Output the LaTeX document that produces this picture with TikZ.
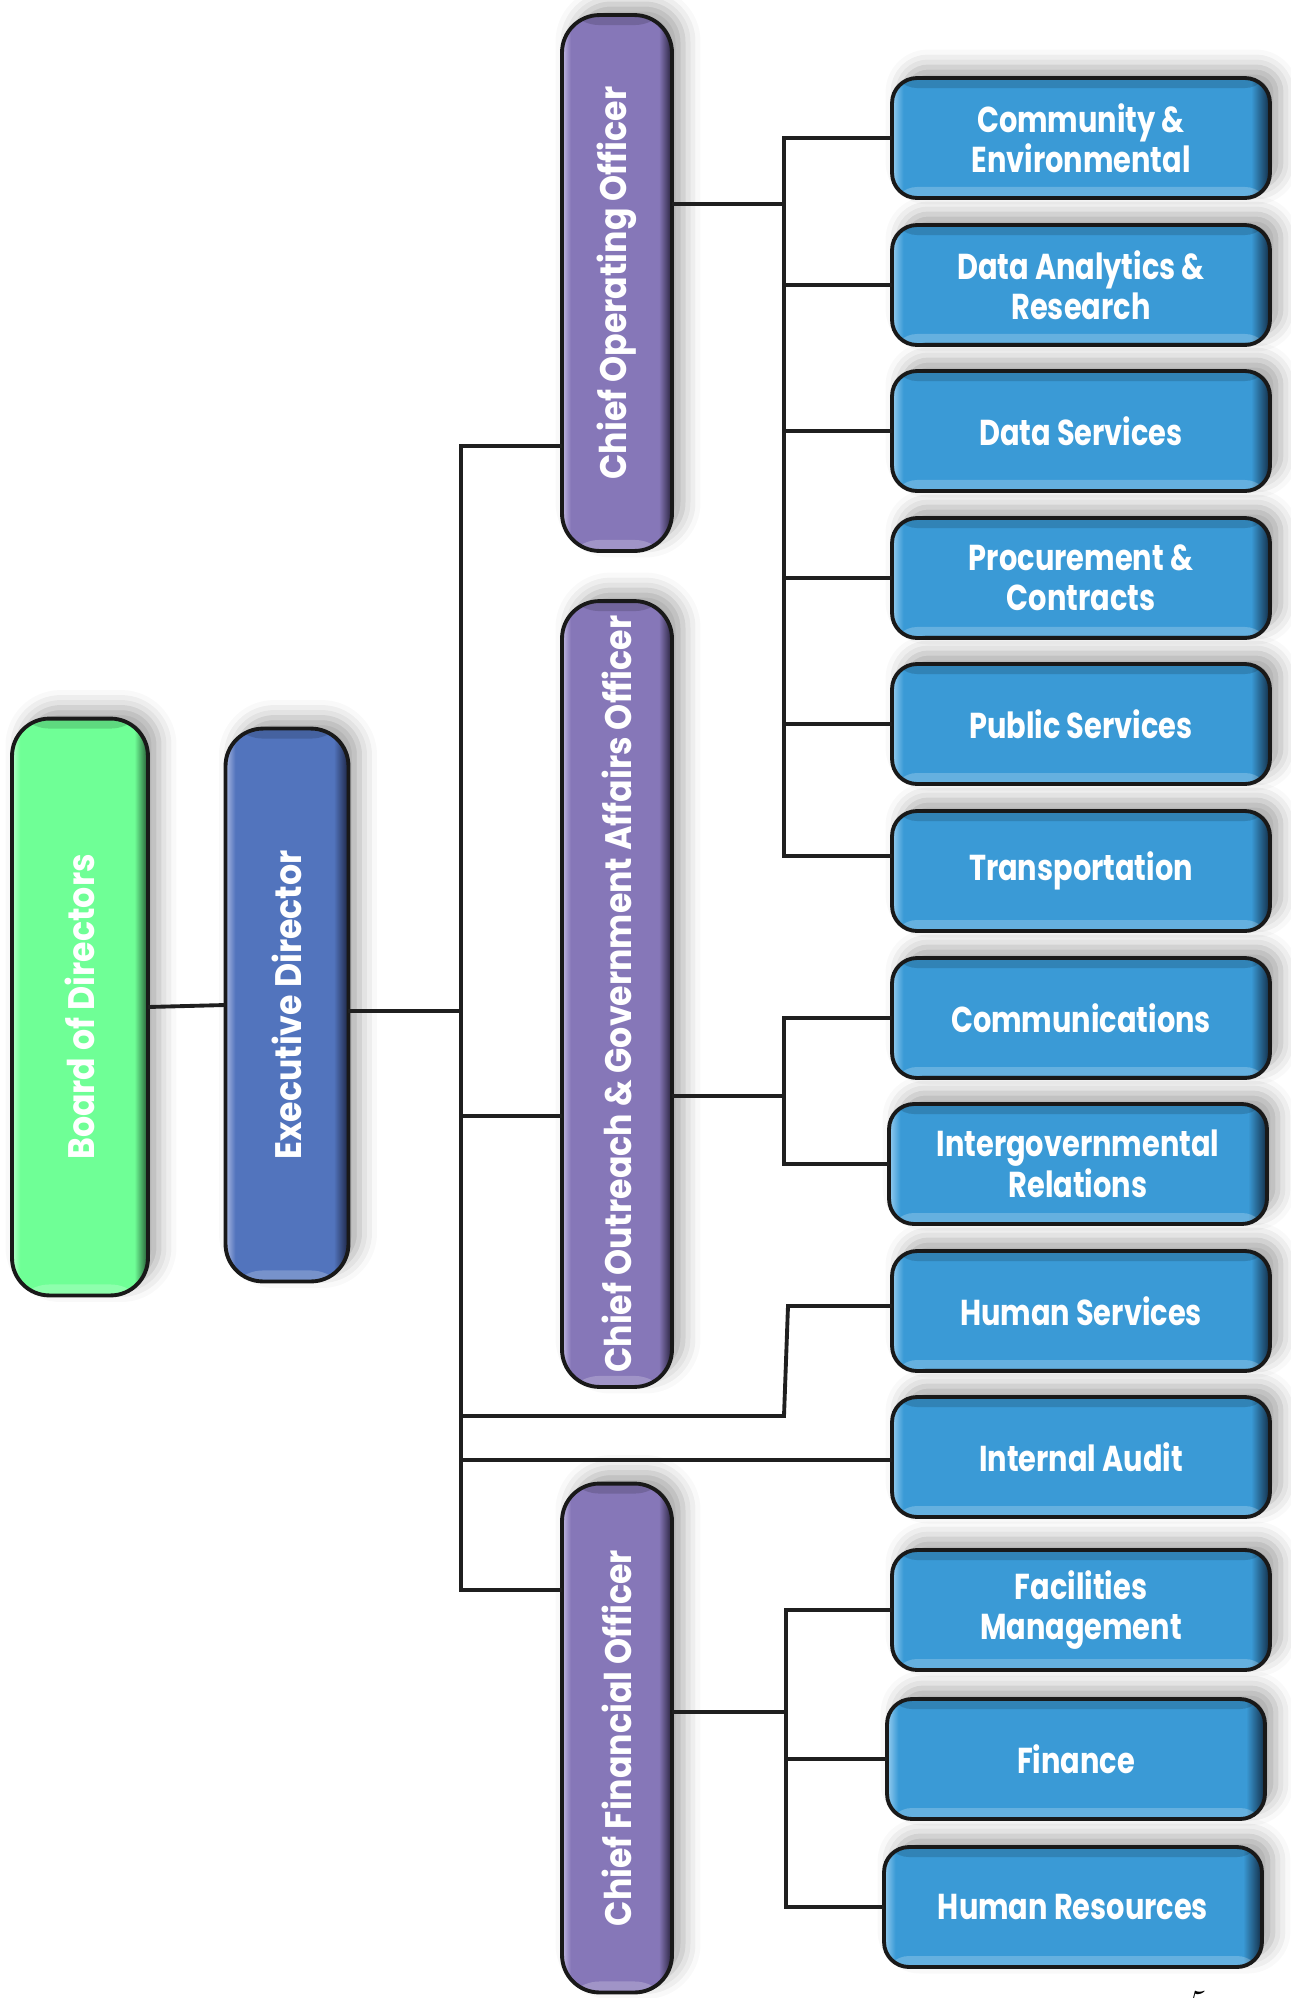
\documentclass[tikz,border=0pt]{standalone}
\usepackage{fontspec}
\usepackage{graphicx}
\usepackage{xcolor}
\usetikzlibrary{shadows.blur}
\newfontfamily\vertfont[FakeStretch=0.9]{Poppins}
\newfontfamily\unitfont[FakeStretch=0.8]{Poppins}

\definecolor{boardbase}{RGB}{111,255,150}
\definecolor{boardlight}{RGB}{185,255,205}
\definecolor{boarddark}{RGB}{35,85,50}
\definecolor{execbase}{RGB}{82,116,189}
\definecolor{execlight}{RGB}{170,185,225}
\definecolor{execdark}{RGB}{28,36,66}
\definecolor{offbase}{RGB}{134,119,184}
\definecolor{offlight}{RGB}{195,185,228}
\definecolor{offdark}{RGB}{38,32,58}
\definecolor{unitbase}{RGB}{58,154,214}
\definecolor{unitlight}{RGB}{150,205,240}
\definecolor{unitdark}{RGB}{18,45,70}

\pgfdeclarehorizontalshading{boardbevel}{100bp}{color(0bp)=(boardlight); color(25bp)=(boardlight); color(28bp)=(boardbase); color(70bp)=(boardbase); color(75bp)=(boarddark); color(100bp)=(boarddark)}
\pgfdeclarehorizontalshading{execbevel}{100bp}{color(0bp)=(execlight); color(25bp)=(execlight); color(29bp)=(execbase); color(69bp)=(execbase); color(75bp)=(execdark); color(100bp)=(execdark)}
\pgfdeclarehorizontalshading{offbevel}{100bp}{color(0bp)=(offlight); color(25bp)=(offlight); color(29bp)=(offbase); color(69bp)=(offbase); color(75bp)=(offdark); color(100bp)=(offdark)}
\pgfdeclarehorizontalshading{unitbevel}{100bp}{color(0bp)=(unitlight); color(25bp)=(unitlight); color(26.5bp)=(unitbase); color(72.5bp)=(unitbase); color(75bp)=(unitdark); color(100bp)=(unitdark)}

\tikzset{
  orgbox/.style = {rounded corners=#1, draw=black!90, line width=2.2pt,
                   inner sep=0pt, outer sep=0pt, shade, text=white,
                   blur shadow={shadow xshift=0.22cm, shadow yshift=0.22cm,
                                shadow blur radius=0.35cm, shadow opacity=35},
                   path picture={
                     \fill[black, opacity=0.15] (path picture bounding box.north west)
                       rectangle ([yshift=-0.2cm]path picture bounding box.north east);
                     \fill[white, opacity=0.22] (path picture bounding box.south west)
                       rectangle ([yshift=0.22cm]path picture bounding box.south east);
                   }},
  leader/.style  = {orgbox=0.75cm, font=\vertfont\bfseries\fontsize{21}{21}\selectfont},
  officer/.style = {orgbox=0.75cm, shading=offbevel, minimum width=2.2cm,
                    font=\vertfont\bfseries\fontsize{21}{21}\selectfont},
  unit/.style    = {orgbox=0.5cm, shading=unitbevel, minimum width=7.56cm,
                    minimum height=2.4cm, align=center,
                    font=\unitfont\bfseries\fontsize{20.5}{23}\selectfont},
  link/.style    = {draw=black!88, line width=2.2pt}
}

\begin{document}
\begin{tikzpicture}[x=0.02cm, y=-0.02cm]
	\useasboundingbox (0,0) rectangle (1291,1998);

	% Top of the tree
	\node[leader, shading=boardbevel, minimum width=2.72cm, minimum height=11.54cm] (bod) at (80,1007) {\rotatebox{90}{Board of Directors}};
	\node[leader, shading=execbevel, minimum width=2.46cm, minimum height=11.06cm] (ed) at (287,1005) {\rotatebox{90}{Executive Director}};

	% Chiefs
	\node[officer, minimum height=10.72cm] (coo) at (617,283) {\rotatebox{90}{Chief Operating Officer}};
	\node[officer, minimum height=15.72cm] (outreach) at (617,994) {\rotatebox{90}{Chief Outreach \& Government Affairs Officer}};
	\node[officer, minimum height=10.18cm] (cfo) at (617,1738) {\rotatebox{90}{Chief Financial Officer}};

	% Units
	\node[unit] (comm) at (1081,138) {Community \&\\Environmental};
	\node[unit] (dar) at (1081,285) {Data Analytics \&\\Research};
	\node[unit] (dsv) at (1081,431) {Data Services};
	\node[unit] (proc) at (1081,578) {Procurement \&\\Contracts};
	\node[unit] (pub) at (1081,724) {Public Services};
	\node[unit] (trans) at (1081,871) {Transportation};
	\node[unit] (comms) at (1081,1018) {Communications};
	\node[unit] (intergov) at (1078,1164) {Intergovernmental\\Relations};
	\node[unit] (hsvc) at (1081,1311) {Human Services};
	\node[unit] (audit) at (1081,1457) {Internal Audit};
	\node[unit] (fac) at (1081,1610) {Facilities\\Management};
	\node[unit] (fin) at (1076,1759) {Finance};
	\node[unit] (hr) at (1073,1907) {Human Resources};

	% Page number (cut by the page edge)
	\node[anchor=north, inner sep=0pt, font=\fontsize{20}{20}\selectfont\itshape] (pageno) at (1194,1991) {5};

	% Trunk
	\coordinate (trunk coo) at (461,446);
	\coordinate (trunk ed) at (461,1011);
	\coordinate (trunk out) at (461,1116);
	\coordinate (trunk hs) at (461,1416);
	\coordinate (trunk ia) at (461,1460);
	\coordinate (trunk cfo) at (461,1590);
	\draw[link] (bod.east) -- (ed.west);
	\draw[link] (trunk ed -| ed.east) -- (trunk ed);
	\draw[link, line cap=rect] (trunk coo) -- (trunk cfo);
	\draw[link] (trunk coo) -- (trunk coo -| coo.west);
	\draw[link] (trunk out) -- (trunk out -| outreach.west);
	\draw[link] (trunk ia) -- (trunk ia -| audit.west);
	\draw[link] (trunk cfo) -- (trunk cfo -| cfo.west);
	\coordinate (hs bend) at (788,1306);
	\draw[link] (trunk hs) -- (784,1416) -- (hs bend) -- (hs bend -| hsvc.west);

	% Operations
	\coordinate (coo bus) at (784,204);
	\coordinate (trans in) at ([yshift=0.3cm]trans.west);
	\draw[link] (coo bus -| coo.east) -- (coo bus);
	\draw[link, line cap=rect] (coo bus |- comm.west) -- (coo bus |- trans in);
	\draw[link] (coo bus |- comm.west) -- (comm.west);
	\draw[link] (coo bus |- dar.west) -- (dar.west);
	\draw[link] (coo bus |- dsv.west) -- (dsv.west);
	\draw[link] (coo bus |- proc.west) -- (proc.west);
	\draw[link] (coo bus |- pub.west) -- (pub.west);
	\draw[link] (coo bus |- trans in) -- (trans in);

	% Outreach
	\coordinate (out bus) at (784,1096);
	\draw[link] (out bus -| outreach.east) -- (out bus);
	\draw[link, line cap=rect] (out bus |- comms.west) -- (out bus |- intergov.west);
	\draw[link] (out bus |- comms.west) -- (comms.west);
	\draw[link] (out bus |- intergov.west) -- (intergov.west);

	% Finance
	\coordinate (cfo bus) at (786,1712);
	\draw[link] (cfo bus -| cfo.east) -- (cfo bus);
	\draw[link, line cap=rect] (cfo bus |- fac.west) -- (cfo bus |- hr.west);
	\draw[link] (cfo bus |- fac.west) -- (fac.west);
	\draw[link] (cfo bus |- fin.west) -- (fin.west);
	\draw[link] (cfo bus |- hr.west) -- (hr.west);
\end{tikzpicture}
\end{document}
